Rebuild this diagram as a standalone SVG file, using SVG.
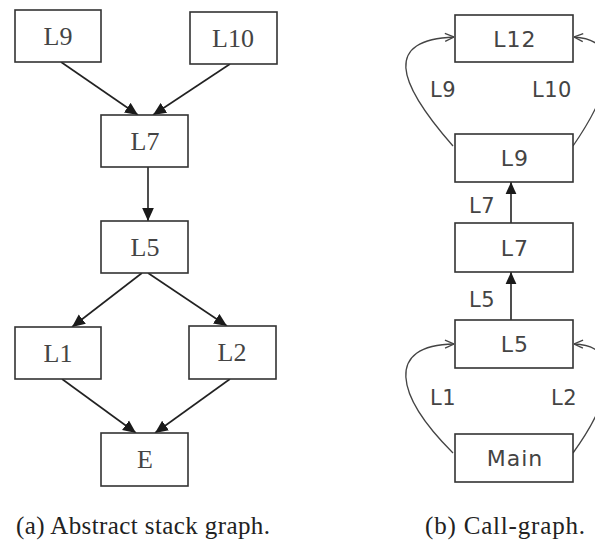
<svg xmlns="http://www.w3.org/2000/svg" width="595" height="545" viewBox="0 0 595 545">
<defs>
<marker id="tri" viewBox="0 0 10 10" refX="10" refY="5" markerWidth="13" markerHeight="13" markerUnits="userSpaceOnUse" orient="auto">
<path d="M0,0.5 L10,5 L0,9.5 Z" fill="#1a1a1a"/>
</marker>
<marker id="tri2" viewBox="0 0 10 10" refX="10" refY="5" markerWidth="12" markerHeight="12" markerUnits="userSpaceOnUse" orient="auto">
<path d="M0,0.5 L10,5 L0,9.5 Z" fill="#1a1a1a"/>
</marker>
<marker id="open" viewBox="0 0 10 10" refX="10" refY="5" markerWidth="10" markerHeight="10" markerUnits="userSpaceOnUse" orient="auto">
<path d="M1,1 L10,5 L1,9" fill="none" stroke="#444" stroke-width="1.3"/>
</marker>
</defs>
<style>
.box{fill:#fff;stroke:#333;stroke-width:1.6}
.st{font-family:"Liberation Serif","Times New Roman",serif;font-size:26px;fill:#444;text-anchor:middle}
.cg{font-family:"DejaVu Sans",Verdana,sans-serif;font-size:22px;fill:#444;text-anchor:middle;letter-spacing:1px}
.lab{font-family:"DejaVu Sans",Verdana,sans-serif;font-size:21px;fill:#444;letter-spacing:0.5px}
.cap{font-family:"Liberation Serif","Times New Roman",serif;font-size:25px;fill:#222}
.e{stroke:#222;stroke-width:1.6;fill:none}
.c{stroke:#444;stroke-width:1.3;fill:none}
</style>
<rect width="595" height="545" fill="#fff"/>
<g id="connectors">
<line class="e" x1="61" y1="62" x2="138" y2="115" marker-end="url(#tri)"/>
<line class="e" x1="230" y1="64" x2="153" y2="115" marker-end="url(#tri)"/>
<line class="e" x1="148" y1="167" x2="148" y2="221" marker-end="url(#tri)"/>
<line class="e" x1="142" y1="273" x2="72" y2="327" marker-end="url(#tri)"/>
<line class="e" x1="148" y1="273" x2="227" y2="326" marker-end="url(#tri)"/>
<line class="e" x1="62" y1="379" x2="136" y2="433" marker-end="url(#tri)"/>
<line class="e" x1="230" y1="379" x2="155" y2="433" marker-end="url(#tri)"/>
<line class="e" x1="511" y1="223" x2="511" y2="182" marker-end="url(#tri2)"/>
<line class="e" x1="511" y1="320" x2="511" y2="272" marker-end="url(#tri2)"/>
<path class="c" d="M453,146 C395,80 385,40 454,37" marker-end="url(#open)"/>
<path class="c" d="M573,146 C615,85 622,40 574,37" marker-end="url(#open)"/>
<path class="c" d="M453,453 C395,395 385,345 454,344" marker-end="url(#open)"/>
<path class="c" d="M573,453 C615,395 622,345 574,344" marker-end="url(#open)"/>
<text class="lab" x="430" y="97">L9</text>
<text class="lab" x="532" y="97">L10</text>
<text class="lab" x="469" y="213">L7</text>
<text class="lab" x="469" y="307">L5</text>
<text class="lab" x="430" y="405">L1</text>
<text class="lab" x="551" y="405">L2</text>
</g>
<g id="a-L9"><rect class="box" x="15" y="10" width="86" height="52"/><text class="st" x="58" y="45">L9</text></g>
<g id="a-L10"><rect class="box" x="190" y="12" width="87" height="52"/><text class="st" x="233" y="47">L10</text></g>
<g id="a-L7"><rect class="box" x="101" y="115" width="87" height="52"/><text class="st" x="145" y="150">L7</text></g>
<g id="a-L5"><rect class="box" x="101" y="221" width="87" height="52"/><text class="st" x="145" y="256">L5</text></g>
<g id="a-L1"><rect class="box" x="15" y="327" width="86" height="52"/><text class="st" x="58" y="362">L1</text></g>
<g id="a-L2"><rect class="box" x="189" y="326" width="87" height="53"/><text class="st" x="232" y="361">L2</text></g>
<g id="a-E"><rect class="box" x="101" y="433" width="87" height="53"/><text class="st" x="145" y="468">E</text></g>
<g id="b-L12"><rect class="box" x="455" y="15" width="118" height="47"/><text class="cg" x="515" y="47">L12</text></g>
<g id="b-L9"><rect class="box" x="455" y="134" width="118" height="48"/><text class="cg" x="515" y="166">L9</text></g>
<g id="b-L7"><rect class="box" x="455" y="223" width="118" height="49"/><text class="cg" x="515" y="256">L7</text></g>
<g id="b-L5"><rect class="box" x="455" y="320" width="118" height="48"/><text class="cg" x="515" y="352">L5</text></g>
<g id="b-Main"><rect class="box" x="455" y="434" width="118" height="48"/><text class="cg" x="515" y="466">Main</text></g>
<text class="cap" x="16" y="534" textLength="254" lengthAdjust="spacing">(a)  Abstract stack graph.</text>
<text class="cap" x="425" y="534" textLength="160" lengthAdjust="spacing">(b)  Call-graph.</text>
</svg>
